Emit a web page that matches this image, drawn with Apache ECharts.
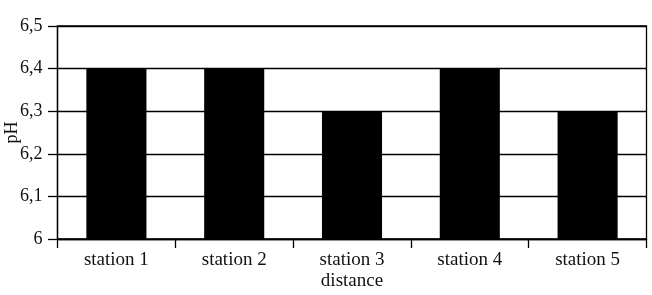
<!DOCTYPE html>
<html><head><meta charset="utf-8">
<script src="https://cdn.jsdelivr.net/npm/echarts@6/dist/echarts.min.js"></script>
<style>html,body{margin:0;padding:0;background:#fff}#c{width:652px;height:295px}</style>
</head><body><div id="c"></div>
<script>
const categories = ['station 1', 'station 2', 'station 3', 'station 4', 'station 5'];
const phValues = [6.4, 6.4, 6.3, 6.4, 6.3];
const yTicks = [6, 6.1, 6.2, 6.3, 6.4, 6.5];

const font = 'Liberation Serif';
const chart = echarts.init(document.getElementById('c'), null, {renderer: 'canvas'});
chart.setOption({
  animation: false,
  grid: {left: 57.5, right: 5.5, top: 26, bottom: 56, containLabel: false, outerBoundsMode: 'none',
    show: true, borderColor: '#000', borderWidth: 1.3, backgroundColor: 'transparent'},
  xAxis: {
    type: 'category', data: categories,
    name: 'distance', nameLocation: 'middle', nameGap: 33, nameMoveOverlap: false,
    nameTextStyle: {fontFamily: font, fontSize: 19, color: '#111'},
    axisLine: {lineStyle: {color: '#000', width: 1.3}},
    axisTick: {show: true, alignWithLabel: false, length: 9, lineStyle: {color: '#000', width: 1.3}},
    axisLabel: {fontFamily: font, fontSize: 19, color: '#111', margin: 12}
  },
  yAxis: {
    type: 'value', min: yTicks[0], max: yTicks[yTicks.length - 1], interval: 0.1,
    name: 'pH', nameLocation: 'middle', nameGap: 36, nameMoveOverlap: false,
    nameTextStyle: {fontFamily: font, fontSize: 18, color: '#111'},
    axisLine: {show: true, lineStyle: {color: '#000', width: 1.3}},
    axisTick: {show: true, length: 9.5, lineStyle: {color: '#000', width: 1.3}},
    splitLine: {show: true, lineStyle: {color: '#000', width: 1.3}},
    axisLabel: {fontFamily: font, fontSize: 18, color: '#111', margin: 15,
      formatter: v => { const r = Math.round(v * 10) / 10; return (r % 1 === 0 ? String(r) : r.toFixed(1)).replace('.', ','); }}
  },
  series: [{
    type: 'bar', data: phValues, barWidth: '51%',
    itemStyle: {color: '#000'}
  }]
});
</script></body></html>
